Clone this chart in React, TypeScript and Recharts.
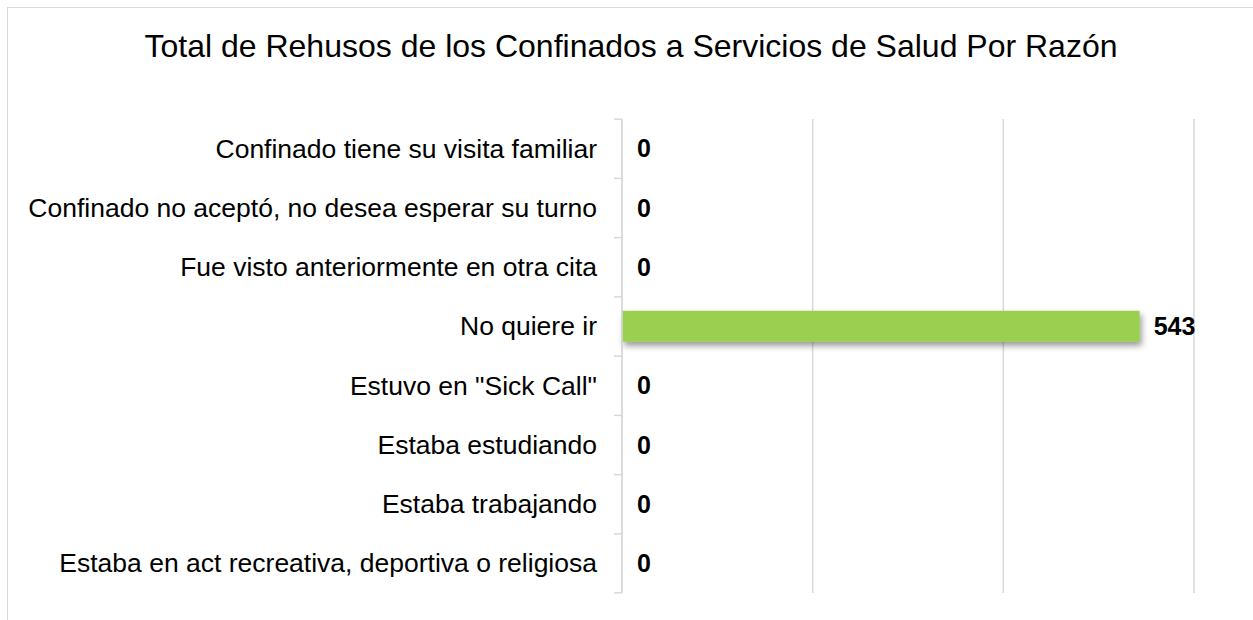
import { ComposedChart, Bar, XAxis, YAxis, CartesianGrid, LabelList, Rectangle } from "recharts"

const categories = [
  "Confinado tiene su visita familiar",
  "Confinado no aceptó, no desea esperar su turno",
  "Fue visto anteriormente en otra cita",
  "No quiere ir",
  'Estuvo en "Sick Call"',
  "Estaba estudiando",
  "Estaba trabajando",
  "Estaba en act recreativa, deportiva o religiosa",
]
const values = [0, 0, 0, 543, 0, 0, 0, 0]
const xTicks = [0, 200, 400, 600]

const data = categories.map((name, i) => ({ name, value: values[i] }))

const FONT = "'Liberation Sans', Arial, sans-serif"
const BAND = 59

const CategoryTick = (props: any) => {
  const { x, y, payload, index } = props
  const last = index === categories.length - 1
  return (
    <g>
      <line x1={x} x2={x + 8} y1={y - BAND / 2} y2={y - BAND / 2} stroke="#d9d9d9" strokeWidth={1.5} />
      {last && <line x1={x} x2={x + 8} y1={y + BAND / 2} y2={y + BAND / 2} stroke="#d9d9d9" strokeWidth={1.5} />}
      <text x={x - 17} y={y} dy={9} textAnchor="end" fontSize={26.5} fill="#000" fontFamily={FONT}>
        {payload.value}
      </text>
    </g>
  )
}

// zero bars get a 1px minimum so their labels still render; draw nothing for them
const BarShape = (props: any) => {
  if (!props.value) return <g />
  return <Rectangle {...props} />
}

export default function App() {
  return (
    <div style={{ position: "absolute", left: 7, top: 7, width: 1260, height: 620, border: "1px solid #d9d9d9", background: "#fff", fontFamily: FONT }}>
      <div style={{ position: "absolute", left: 0, width: 1246, top: 20, textAlign: "center", fontSize: 32, color: "#000" }}>
        Total de Rehusos de los Confinados a Servicios de Salud Por Razón
      </div>
      <ComposedChart
        width={1246}
        height={612}
        data={data}
        layout="vertical"
        margin={{ top: 111, right: 60, bottom: 26, left: 0 }}
        barCategoryGap="23.5%"
      >
        <defs>
          <filter id="shadow" x="-5%" y="-50%" width="110%" height="250%">
            <feDropShadow dx={2} dy={4} stdDeviation={3} floodColor="#000" floodOpacity={0.4} />
          </filter>
        </defs>
        <CartesianGrid horizontal={false} stroke="#d9d9d9" strokeWidth={1.5} />
        <XAxis type="number" domain={[0, 600]} ticks={xTicks} interval={0} tick={() => <g />} tickLine={false} axisLine={false} height={1} />
        <YAxis
          type="category"
          dataKey="name"
          width={614}
          axisLine={{ stroke: "#d9d9d9", strokeWidth: 1.5 }}
          tickLine={false}
          tick={<CategoryTick />}
          interval={0}
        />
        <Bar dataKey="value" fill="#9bcf4f" isAnimationActive={false} filter="url(#shadow)" minPointSize={1} shape={<BarShape />}>
          <LabelList dataKey="value" position="right" offset={14} fill="#000" fontWeight="bold" fontSize={25} fontFamily={FONT} />
        </Bar>
      </ComposedChart>
    </div>
  )
}
